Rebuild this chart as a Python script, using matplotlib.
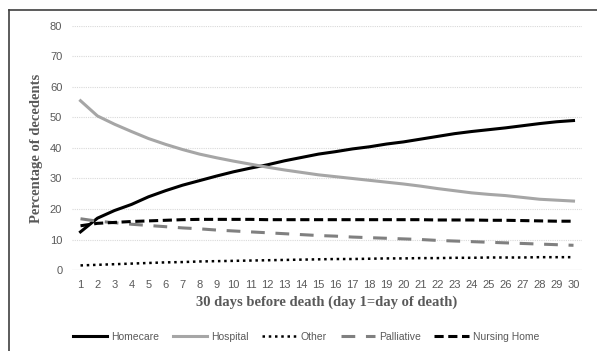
import matplotlib
matplotlib.use("Agg")
import matplotlib.pyplot as plt
from matplotlib.lines import Line2D
import numpy as np

days = list(range(1, 31))
homecare = [12.5, 17.0, 19.5, 21.5, 24.0, 26.0, 27.8, 29.3, 30.8, 32.2, 33.4, 34.5, 35.8, 36.9, 38.0, 38.8, 39.7, 40.4, 41.3, 42.0, 42.9, 43.8, 44.7, 45.4, 46.0, 46.6, 47.3, 48.0, 48.6, 49.0]
hospital = [55.5, 50.5, 47.8, 45.4, 43.1, 41.2, 39.5, 38.0, 36.8, 35.7, 34.7, 33.7, 32.8, 32.0, 31.2, 30.6, 30.0, 29.4, 28.8, 28.2, 27.5, 26.7, 26.0, 25.3, 24.8, 24.4, 23.8, 23.2, 22.9, 22.6]
other = [1.5, 1.7, 1.9, 2.1, 2.3, 2.5, 2.6, 2.8, 2.9, 3.0, 3.1, 3.2, 3.3, 3.4, 3.5, 3.6, 3.6, 3.7, 3.8, 3.8, 3.9, 3.9, 4.0, 4.0, 4.1, 4.1, 4.1, 4.2, 4.2, 4.2]
palliative = [16.8, 16.0, 15.5, 15.0, 14.6, 14.2, 13.8, 13.5, 13.1, 12.8, 12.5, 12.2, 11.9, 11.6, 11.3, 11.1, 10.8, 10.6, 10.4, 10.2, 10.0, 9.7, 9.5, 9.3, 9.1, 8.9, 8.7, 8.5, 8.3, 8.1]
nursing = [14.5, 15.3, 15.6, 15.9, 16.1, 16.3, 16.5, 16.6, 16.6, 16.6, 16.6, 16.5, 16.5, 16.5, 16.5, 16.5, 16.5, 16.5, 16.5, 16.5, 16.5, 16.4, 16.4, 16.4, 16.3, 16.3, 16.2, 16.1, 16.0, 16.0]

grey_txt = '#595959'

fig = plt.figure(figsize=(5.97, 3.51), dpi=100)
ax = fig.add_axes([72/597, 81/351, 510/597, 244/351])

ax.plot(days, homecare, color='black', lw=2.2, label='Homecare')
ax.plot(days, hospital, color='#a6a6a6', lw=2.2, label='Hospital')
ax.plot(days, other, color='black', lw=1.8, ls=(0, (1, 1.5)), label='Other')
ax.plot(days, palliative, color='#808080', lw=2.2, ls=(0, (4.5, 3.5)), label='Palliative')
ax.plot(days, nursing, color='black', lw=2.2, ls=(0, (3, 1.5)), label='Nursing Home')

ax.set_xlim(0.5, 30.5)
ax.set_ylim(0, 80)
ax.set_xticks(days)
ax.set_yticks(range(0, 81, 10))
ax.tick_params(length=0, labelsize=8, labelcolor=grey_txt, pad=7)
for lab in ax.get_xticklabels() + ax.get_yticklabels():
    lab.set_fontfamily('Liberation Sans')

for y in range(10, 81, 10):
    ax.axhline(y, color='#d9d9d9', lw=0.8, ls=(0, (1, 1)), zorder=0)
ax.axhline(0, color='#d9d9d9', lw=0.9, zorder=0)
for s in ax.spines.values():
    s.set_visible(False)

ax.set_xlabel('30 days before death (day 1=day of death)', fontfamily='Liberation Serif',
              fontweight='bold', fontsize=10.5, color=grey_txt, labelpad=4)
ax.set_ylabel('Percentage of decedents', fontfamily='Liberation Serif',
              fontweight='bold', fontsize=10.5, color=grey_txt, labelpad=5)

leg = fig.legend(loc='center', bbox_to_anchor=(306/597, 14/351), ncol=5, frameon=False,
                 handlelength=3.3, columnspacing=1.3, handletextpad=0.4,
                 prop={'family': 'Liberation Sans', 'size': 7.5})
for t in leg.get_texts():
    t.set_color(grey_txt)

# outer frame (left and top edges visible)
fig.add_artist(Line2D([9/597, 9/597], [0, 1 - 10/351], color='#404040', lw=1.2, transform=fig.transFigure))
fig.add_artist(Line2D([9/597, 1], [1 - 10/351, 1 - 10/351], color='#404040', lw=1.2, transform=fig.transFigure))

fig.savefig('out.png', dpi=100)
